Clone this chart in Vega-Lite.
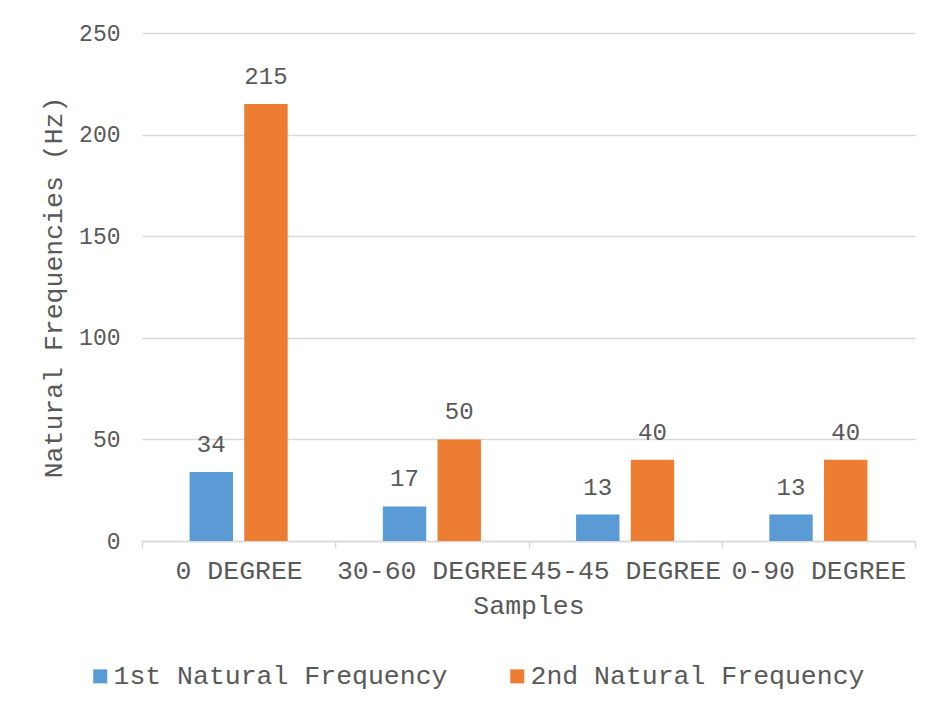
{
  "$schema": "https://vega.github.io/schema/vega-lite/v6.json",
  "autosize": {"type": "none"},
  "width": 773,
  "height": 508,
  "padding": {"left": 142, "top": 33, "right": 21, "bottom": 174},
  "background": "white",
  "config": {
    "font": "Liberation Mono",
    "view": {"stroke": null},
    "axis": {"labelColor": "#595959", "titleColor": "#595959", "titleFontWeight": "normal"}
  },
  "data": {
    "values": [
      {"Sample": "0 DEGREE", "Series": "1st Natural Frequency", "Hz": 34},
      {"Sample": "0 DEGREE", "Series": "2nd Natural Frequency", "Hz": 215},
      {"Sample": "30-60 DEGREE", "Series": "1st Natural Frequency", "Hz": 17},
      {"Sample": "30-60 DEGREE", "Series": "2nd Natural Frequency", "Hz": 50},
      {"Sample": "45-45 DEGREE", "Series": "1st Natural Frequency", "Hz": 13},
      {"Sample": "45-45 DEGREE", "Series": "2nd Natural Frequency", "Hz": 40},
      {"Sample": "0-90 DEGREE", "Series": "1st Natural Frequency", "Hz": 13},
      {"Sample": "0-90 DEGREE", "Series": "2nd Natural Frequency", "Hz": 40}
    ]
  },
  "encoding": {
    "x": {
      "field": "Sample", "type": "nominal", "sort": null,
      "scale": {"paddingInner": 0, "paddingOuter": 0},
      "axis": {
        "title": "Samples", "titleFontSize": 26.5, "titlePadding": 9,
        "labelAngle": 0, "labelFontSize": 26.5, "labelLimit": 400, "labelOverlap": false, "labelBound": false,
        "labelBaseline": "alphabetic", "labelPadding": 30,
        "domainColor": "#d9d9d9", "domainWidth": 1.5,
        "tickColor": "#d9d9d9", "tickWidth": 1.5, "tickSize": 7, "tickBand": "extent",
        "grid": false
      }
    },
    "xOffset": {
      "field": "Series", "type": "nominal",
      "scale": {"paddingInner": 0.2066, "paddingOuter": 0.87}
    },
    "y": {
      "field": "Hz", "type": "quantitative",
      "scale": {"domain": [0, 250]},
      "axis": {
        "title": "Natural Frequencies (Hz)", "titleFontSize": 26.5, "titlePadding": 11,
        "values": [0, 50, 100, 150, 200, 250],
        "labelFontSize": 23, "labelPadding": 22,
        "domain": false, "ticks": false,
        "gridColor": "#d9d9d9", "gridWidth": 1.5
      }
    }
  },
  "layer": [
    {
      "mark": {"type": "bar"},
      "encoding": {
        "color": {
          "field": "Series", "type": "nominal",
          "scale": {"range": ["#5B9BD5", "#ED7D31"]},
          "legend": {
            "title": null, "orient": "none", "direction": "horizontal",
            "legendX": -55, "legendY": 630,
            "symbolType": "square", "symbolSize": 196, "symbolStrokeWidth": 0,
            "labelFontSize": 26.5, "labelColor": "#595959", "labelOffset": 0,
            "columnPadding": 56, "labelLimit": 400, "padding": 0
          }
        }
      }
    },
    {
      "mark": {"type": "text", "fontSize": 24, "color": "#595959", "dy": -20, "baseline": "alphabetic"},
      "encoding": {"text": {"field": "Hz", "type": "quantitative"}}
    }
  ]
}
